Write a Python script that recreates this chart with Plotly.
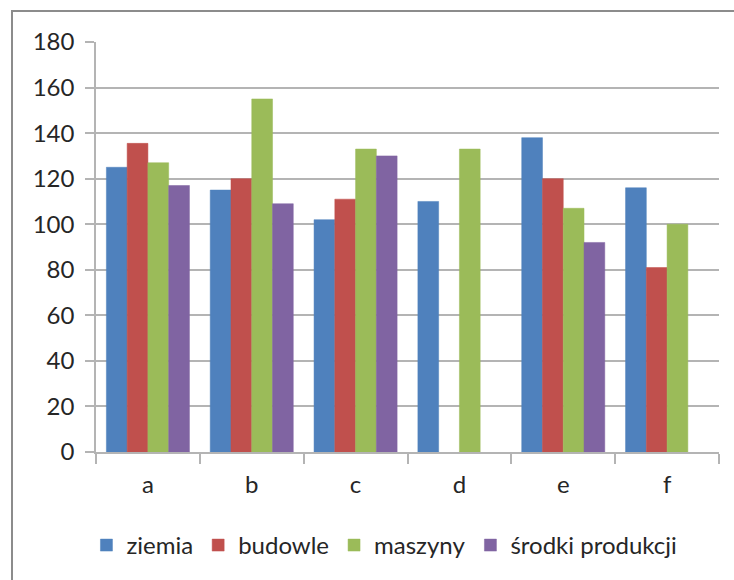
import plotly.graph_objects as go

# Category labels and series values
categories = ["a", "b", "c", "d", "e", "f"]
ziemia = [125, 115, 102, 110, 138, 116]
budowle = [135.5, 120, 111, None, 120, 81]
maszyny = [127, 155, 133, 133, 107, 100]
srodki = [117, 109, 130, None, 92, None]

series_names = ["ziemia", "budowle", "maszyny", "środki produkcji"]
series_values = [ziemia, budowle, maszyny, srodki]
colors = ["#4F81BD", "#C0504D", "#9BBB59", "#8064A2"]

y_ticks = [0, 20, 40, 60, 80, 100, 120, 140, 160, 180]

W, H = 734, 580
ML, MR, MT, MB = 96, 15, 42, 128

fig = go.Figure()
for name, vals, col in zip(series_names, series_values, colors):
    fig.add_trace(go.Bar(
        x=categories, y=vals, name=name,
        marker=dict(color=col, line=dict(color=col, width=0.5)),
    ))

grid = "#B4B4B4"
font_family = "Lato, Carlito, Calibri, sans-serif"
txt = "#262626"
fs = 24

fig.update_layout(
    width=W, height=H,
    margin=dict(l=ML, r=MR, t=MT, b=MB),
    paper_bgcolor="white", plot_bgcolor="white",
    barmode="group", bargap=0.2, bargroupgap=0,
    font=dict(family=font_family, size=fs, color=txt),
    showlegend=True,
    legend=dict(
        orientation="h", x=0.463, xanchor="center", y=-0.228, yanchor="middle",
        font=dict(size=fs, color=txt), itemwidth=30,
        traceorder="normal",
    ),
    xaxis=dict(
        type="category", showgrid=False, showline=True, linecolor=grid, linewidth=1.5,
        ticks="outside", ticklen=10, tickcolor=grid, tickwidth=1.5,
        tickson="boundaries", tickfont=dict(size=fs, color=txt),
        ticklabelstandoff=10, fixedrange=True,
    ),
    yaxis=dict(
        range=[0, 180], tickvals=y_ticks, showgrid=True, gridcolor=grid, gridwidth=1.5,
        showline=True, linecolor=grid, linewidth=1.5,
        ticks="outside", ticklen=9, tickcolor=grid, tickwidth=1.5,
        tickfont=dict(size=fs, color=txt), zeroline=False,
        ticklabelstandoff=6, fixedrange=True,
    ),
)

# Outer chart frame (extends past the right and bottom edges of the page)
pw = W - ML - MR
ph = H - MT - MB
fig.add_shape(
    type="rect", xref="paper", yref="paper",
    x0=(12 - ML) / pw, x1=(W + 20 - ML) / pw,
    y0=-(H + 20 - MT - ph) / ph, y1=1 + (MT - 11) / ph,
    line=dict(color="#8C8C8C", width=2), fillcolor="rgba(0,0,0,0)", layer="below",
)

fig.write_html("out.html")
